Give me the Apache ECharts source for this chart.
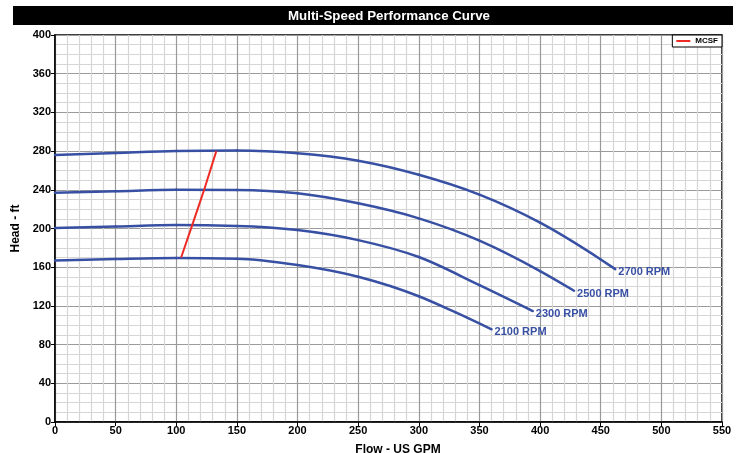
<!DOCTYPE html>
<html>
<head>
<meta charset="utf-8">
<script src="https://cdn.jsdelivr.net/npm/echarts@6/dist/echarts.min.js"></script>
<style>
  html, body { margin: 0; padding: 0; background: #fff; }
  #chart { width: 744px; height: 453px; }
</style>
</head>
<body>
<div id="chart"></div>
<script>
// Pump head vs. flow at four speeds, plus the minimum continuous stable flow line
const flow2700 = [0, 50, 100, 150, 200, 250, 300, 350, 400, 450, 462];
const head2700 = [276, 278, 280, 280.5, 277.7, 270, 255.5, 235, 206, 168, 158];

const flow2500 = [0, 50, 100, 150, 200, 250, 300, 350, 400, 428];
const head2500 = [237, 238.5, 240, 239.8, 236.4, 226, 210.5, 187.5, 156, 135.7];

const flow2300 = [0, 50, 100, 150, 200, 250, 300, 350, 394];
const head2300 = [200.5, 202, 203.5, 202.6, 198.4, 188, 170.5, 141.5, 114.7];

const flow2100 = [0, 50, 100, 150, 200, 250, 300, 330, 360];
const head2100 = [167, 168.5, 169.5, 168.8, 162.3, 150.2, 130, 113.5, 95.8];

const flowMcsf = [104, 113, 123, 133];
const headMcsf = [170, 203, 240, 280];

const speedNames = ['2700 RPM', '2500 RPM', '2300 RPM', '2100 RPM'];
const xTicks = [0, 550, 50];   // min, max, interval
const yTicks = [0, 400, 40];
const chartTitle = 'Multi-Speed Performance Curve';

const BLUE = '#3850a3';
const FONT = '"Liberation Sans", Arial, sans-serif';

function pairs(xs, ys) { return xs.map((x, i) => [x, ys[i]]); }

// monotone cubic (in pixel space) through the projected points -> bezier segments
function monotoneSegments(p) {
  const n = p.length;
  const h = [], s = [], m = new Array(n);
  for (let i = 0; i < n - 1; i++) {
    h[i] = p[i + 1][0] - p[i][0];
    s[i] = (p[i + 1][1] - p[i][1]) / h[i];
  }
  for (let i = 1; i < n - 1; i++) {
    const q = (s[i - 1] * h[i] + s[i] * h[i - 1]) / (h[i - 1] + h[i]);
    m[i] = (Math.sign(s[i - 1]) + Math.sign(s[i])) *
           Math.min(Math.abs(s[i - 1]), Math.abs(s[i]), 0.5 * Math.abs(q)) || 0;
  }
  m[0] = (3 * s[0] - m[1]) / 2;
  m[n - 1] = (3 * s[n - 2] - m[n - 2]) / 2;
  const segs = [];
  for (let i = 0; i < n - 1; i++) {
    const d = h[i] / 3;
    segs.push({
      x1: p[i][0], y1: p[i][1], x2: p[i + 1][0], y2: p[i + 1][1],
      cpx1: p[i][0] + d, cpy1: p[i][1] + m[i] * d,
      cpx2: p[i + 1][0] - d, cpy2: p[i + 1][1] - m[i + 1] * d
    });
  }
  return segs;
}

function speedSeries(name, xs, ys) {
  const data = pairs(xs, ys);
  return {
    name: name, type: 'custom', data: data, encode: { x: 0, y: 1 }, z: 3, silent: true,
    renderItem: function (params, api) {
      if (params.dataIndex !== 0) return null;
      const pts = data.map(d => api.coord(d));
      const children = monotoneSegments(pts).map(seg => ({
        type: 'bezierCurve', shape: seg,
        style: { stroke: BLUE, lineWidth: 2.5, fill: null, lineCap: 'round' }
      }));
      const end = pts[pts.length - 1];
      children.push({
        type: 'text', x: end[0] + 3, y: end[1] + 3,
        style: { text: name, fill: BLUE, align: 'left', verticalAlign: 'middle',
                 font: 'bold 11px ' + FONT }
      });
      return { type: 'group', children: children };
    }
  };
}

// squeeze the title into a condensed bold face
const titleFont = 'bold 13px "Liberation Sans", Arial, sans-serif';
const ctx = document.createElement('canvas').getContext('2d');
ctx.font = titleFont;
const titleScale = 202 / ctx.measureText(chartTitle).width;

const chart = echarts.init(document.getElementById('chart'), null, { renderer: 'canvas' });
chart.setOption({
  animation: false,
  backgroundColor: '#fff',
  graphic: [
    { type: 'rect', shape: { x: 13, y: 6, width: 720, height: 19 }, style: { fill: '#000' } },
    { type: 'text', x: 389, y: 16, scaleX: titleScale, style: {
        text: chartTitle, fill: '#fff', align: 'center', verticalAlign: 'middle', font: titleFont } }
  ],
  grid: { left: 55, right: 22, top: 35, bottom: 31, show: true, borderColor: '#000', borderWidth: 1.5,
          containLabel: false, outerBoundsMode: 'none' },
  legend: {
    data: ['MCSF'], right: 22, top: 35, orient: 'vertical',
    backgroundColor: '#fff', borderColor: '#000', borderWidth: 1,
    padding: [2, 4, 2, 4], itemWidth: 14, itemHeight: 2, itemGap: 2,
    icon: 'rect',
    textStyle: { fontSize: 8, fontWeight: 'bold', color: '#000', fontFamily: FONT }
  },
  xAxis: {
    type: 'value', min: xTicks[0], max: xTicks[1], interval: xTicks[2],
    name: 'Flow - US GPM', nameLocation: 'middle', nameGap: 22,
    nameTextStyle: { fontSize: 12, fontWeight: 'bold', color: '#000', fontFamily: FONT, padding: [0, 0, 0, 19] },
    axisLine: { show: true, lineStyle: { color: '#000', width: 1.5 } },
    axisTick: { show: true, length: 4, lineStyle: { color: '#000' } },
    axisLabel: { fontSize: 11, fontWeight: 'bold', color: '#000', fontFamily: FONT, margin: 3 },
    splitLine: { show: true, lineStyle: { color: '#9a9a9a', width: 1.2 } },
    minorTick: { show: false, splitNumber: 5 },
    minorSplitLine: { show: true, lineStyle: { color: '#d6d6d6', width: 1.2 } }
  },
  yAxis: {
    type: 'value', min: yTicks[0], max: yTicks[1], interval: yTicks[2],
    name: 'Head - ft', nameLocation: 'middle', nameGap: 28, nameRotate: 90,
    nameTextStyle: { fontSize: 12, fontWeight: 'bold', color: '#000', fontFamily: FONT },
    axisLine: { show: true, lineStyle: { color: '#000', width: 1.5 } },
    axisTick: { show: true, length: 4, lineStyle: { color: '#000' } },
    axisLabel: { fontSize: 11, fontWeight: 'bold', color: '#000', fontFamily: FONT, margin: 4 },
    splitLine: { show: true, lineStyle: { color: '#9a9a9a', width: 1.2 } },
    minorTick: { show: false, splitNumber: 4 },
    minorSplitLine: { show: true, lineStyle: { color: '#d6d6d6', width: 1.2 } }
  },
  series: [
    speedSeries(speedNames[0], flow2700, head2700),
    speedSeries(speedNames[1], flow2500, head2500),
    speedSeries(speedNames[2], flow2300, head2300),
    speedSeries(speedNames[3], flow2100, head2100),
    {
      name: 'MCSF', type: 'line', data: pairs(flowMcsf, headMcsf), showSymbol: false, symbol: 'none',
      lineStyle: { color: '#ee2a24', width: 2 }, itemStyle: { color: '#ee2a24' }, z: 4, silent: true
    }
  ]
});
</script>
</body>
</html>
